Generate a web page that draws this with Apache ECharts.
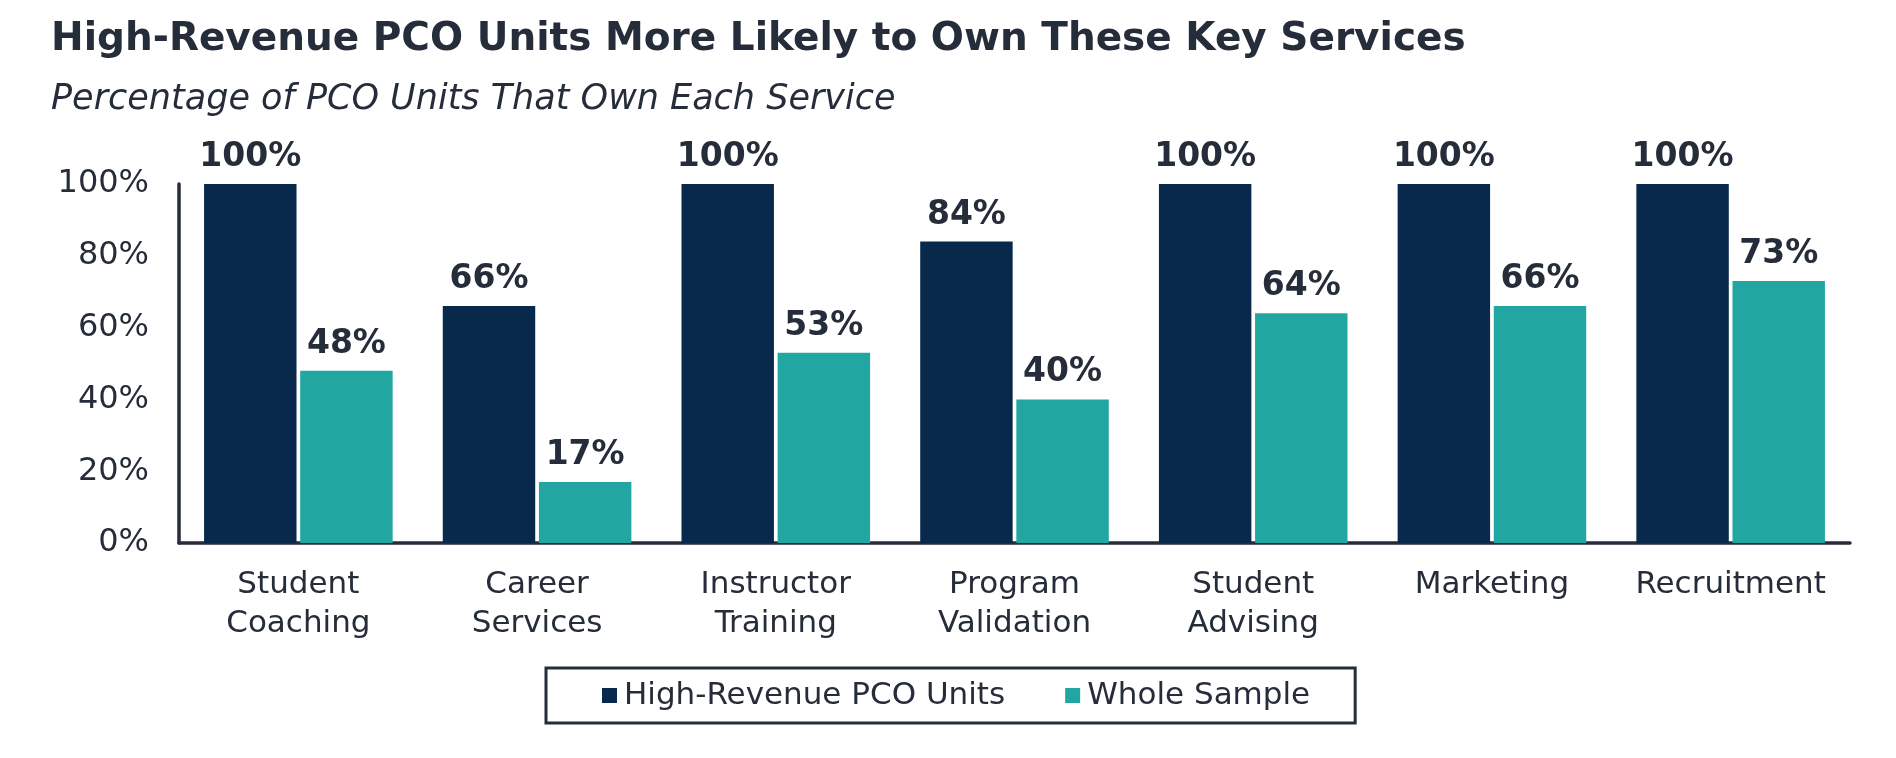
<!DOCTYPE html>
<html>
<head>
<meta charset="utf-8">
<script src="https://cdn.jsdelivr.net/npm/echarts@6/dist/echarts.min.js"></script>
<style>
  html, body { margin: 0; padding: 0; background: #fff; }
  #chart { width: 1896px; height: 758px; }
</style>
</head>
<body>
<div id="chart"></div>
<script>
const categories = ['Student\nCoaching', 'Career\nServices', 'Instructor\nTraining', 'Program\nValidation', 'Student\nAdvising', 'Marketing', 'Recruitment'];
const highRevenue = [100, 66, 100, 84, 100, 100, 100];
const wholeSample = [48, 17, 53, 40, 64, 66, 73];
const yTicks = [0, 20, 40, 60, 80, 100];

const textColor = '#262d3a';
const font = 'DejaVu Sans';

const labelStyle = {
    show: true,
    position: 'top',
    distance: 10,
    formatter: '{c}%',
    fontFamily: font,
    fontWeight: 'bold',
    fontSize: 33,
    color: textColor
};

const option = {
    animation: false,
    title: [
        {
            text: 'High-Revenue PCO Units More Likely to Own These Key Services',
            left: 46,
            top: 15,
            textStyle: { fontFamily: font, fontWeight: 'bold', fontSize: 39, color: textColor }
        },
        {
            text: 'Percentage of PCO Units That Own Each Service',
            left: 46,
            top: 77,
            textStyle: { fontFamily: font, fontStyle: 'italic', fontWeight: 'normal', fontSize: 35, color: textColor }
        }
    ],
    legend: {
        left: 546,
        top: 668,
        itemWidth: 15,
        itemHeight: 15,
        itemGap: 60,
        padding: [12, 45, 12, 56],
        borderColor: textColor,
        borderWidth: 3,
        icon: 'rect',
        textStyle: { fontFamily: font, fontSize: 31, color: textColor, padding: [0, 0, 0, 2] },
        data: ['High-Revenue PCO Units', 'Whole Sample']
    },
    grid: { left: 179, right: 46, top: 184, bottom: 215 },
    xAxis: {
        type: 'category',
        data: categories,
        axisLine: { lineStyle: { color: textColor, width: 3.5 } },
        axisTick: { show: false },
        axisLabel: {
            margin: 22,
            fontFamily: font,
            fontSize: 31,
            lineHeight: 39,
            color: textColor,
            interval: 0
        }
    },
    yAxis: {
        type: 'value',
        min: yTicks[0],
        max: yTicks[yTicks.length - 1],
        interval: yTicks[1] - yTicks[0],
        axisLine: { show: true, lineStyle: { color: textColor, width: 3.5 } },
        axisTick: { show: false },
        splitLine: { show: false },
        axisLabel: {
            margin: 30,
            formatter: '{value}%',
            fontFamily: font,
            fontSize: 32,
            color: textColor
        }
    },
    series: [
        {
            name: 'High-Revenue PCO Units',
            type: 'bar',
            data: highRevenue,
            barGap: '4%',
            barCategoryGap: '21%',
            itemStyle: { color: '#08294c' },
            label: labelStyle
        },
        {
            name: 'Whole Sample',
            type: 'bar',
            data: wholeSample,
            itemStyle: { color: '#22a6a1' },
            label: labelStyle
        }
    ]
};

const chart = echarts.init(document.getElementById('chart'));
chart.setOption(option);
</script>
</body>
</html>
